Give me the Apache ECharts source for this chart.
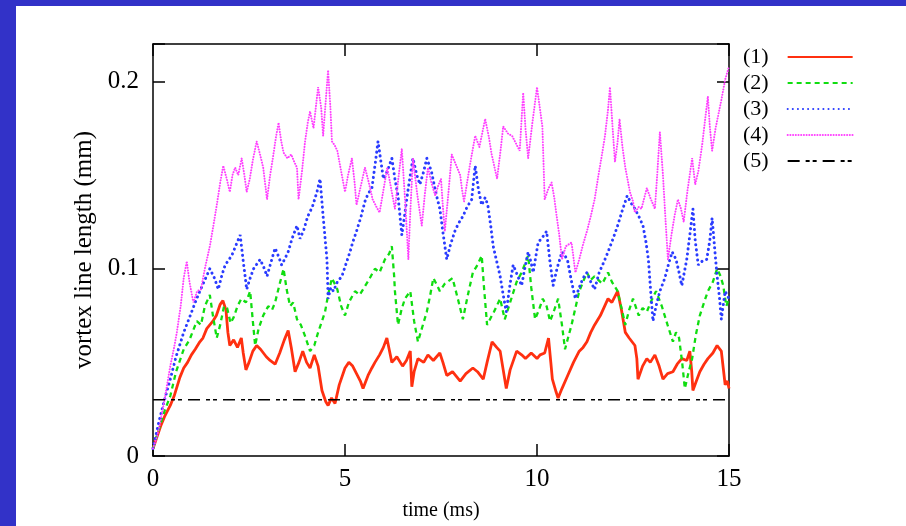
<!DOCTYPE html>
<html>
<head>
<meta charset="utf-8">
<script src="https://cdn.jsdelivr.net/npm/echarts@6/dist/echarts.min.js"></script>
<style>
html,body{margin:0;padding:0;width:906px;height:526px;background:#3232c8;overflow:hidden;}
#chart{position:absolute;left:16px;top:6px;width:890px;height:520px;background:#ffffff;}
</style>
</head>
<body>
<div id="chart"></div>
<script>
// ---- data ----
const seriesNames = ['(1)', '(2)', '(3)', '(4)', '(5)'];
const xTicks = [0, 5, 10, 15];
const yTicks = [0, 0.1, 0.2];

const time1 = [0,0.1,0.2,0.3,0.45,0.55,0.7,0.8,0.9,1.0,1.1,1.22,1.3,1.4,1.56,1.65,1.75,1.82,1.9,1.95,2.0,2.1,2.2,2.3,2.35,2.42,2.5,2.6,2.7,2.8,2.95,3.05,3.18,3.3,3.42,3.52,3.6,3.7,3.8,3.9,4.0,4.09,4.2,4.3,4.4,4.5,4.56,4.65,4.74,4.85,5.0,5.1,5.2,5.3,5.4,5.47,5.6,5.7,5.78,5.9,6.0,6.09,6.15,6.22,6.35,6.5,6.6,6.7,6.74,6.8,6.9,7.05,7.16,7.3,7.47,7.55,7.65,7.8,8.0,8.15,8.33,8.45,8.6,8.7,8.83,8.95,9.04,9.12,9.2,9.3,9.47,9.6,9.7,9.85,10.0,10.08,10.2,10.3,10.36,10.4,10.5,10.55,10.65,10.8,10.95,11.1,11.2,11.3,11.4,11.5,11.65,11.85,11.95,12.1,12.2,12.3,12.4,12.55,12.6,12.63,12.75,12.86,12.95,13.07,13.18,13.28,13.4,13.54,13.65,13.77,13.9,13.98,14.03,14.06,14.15,14.24,14.35,14.45,14.58,14.69,14.8,14.85,14.9,14.96,15.0];
const len1 = [0.004,0.010,0.016,0.021,0.027,0.032,0.042,0.047,0.050,0.054,0.057,0.061,0.063,0.068,0.072,0.075,0.081,0.083,0.078,0.066,0.059,0.062,0.058,0.063,0.055,0.046,0.050,0.056,0.059,0.057,0.053,0.051,0.049,0.055,0.062,0.067,0.058,0.045,0.050,0.056,0.050,0.047,0.054,0.048,0.035,0.029,0.027,0.031,0.028,0.038,0.047,0.050,0.048,0.044,0.040,0.036,0.043,0.047,0.050,0.054,0.058,0.063,0.057,0.050,0.053,0.048,0.051,0.056,0.037,0.045,0.052,0.050,0.054,0.051,0.055,0.050,0.043,0.045,0.040,0.044,0.047,0.045,0.041,0.050,0.061,0.058,0.056,0.046,0.036,0.046,0.056,0.054,0.052,0.055,0.052,0.054,0.055,0.063,0.050,0.041,0.034,0.031,0.036,0.043,0.050,0.056,0.058,0.061,0.066,0.070,0.075,0.084,0.082,0.088,0.078,0.066,0.063,0.059,0.052,0.041,0.048,0.052,0.050,0.054,0.048,0.041,0.044,0.045,0.049,0.052,0.051,0.056,0.045,0.035,0.040,0.045,0.049,0.052,0.055,0.059,0.056,0.047,0.038,0.040,0.036];

const time2 = [0,0.15,0.3,0.45,0.6,0.8,0.95,1.14,1.25,1.35,1.48,1.56,1.66,1.75,1.85,1.93,2.02,2.1,2.2,2.3,2.42,2.53,2.6,2.66,2.75,2.87,3.0,3.1,3.18,3.3,3.4,3.48,3.57,3.65,3.75,3.85,3.96,4.09,4.2,4.3,4.4,4.48,4.57,4.66,4.8,4.9,5.0,5.1,5.26,5.38,5.5,5.62,5.78,5.9,6.04,6.15,6.22,6.28,6.3,6.38,6.47,6.56,6.7,6.8,6.9,7.0,7.13,7.22,7.3,7.4,7.47,7.6,7.8,7.95,8.07,8.2,8.33,8.45,8.56,8.62,8.7,8.8,8.88,9.04,9.16,9.3,9.47,9.6,9.77,9.85,9.95,10.05,10.15,10.25,10.34,10.45,10.55,10.65,10.73,10.82,10.9,11.0,11.1,11.2,11.3,11.4,11.5,11.7,11.85,11.95,12.1,12.2,12.3,12.4,12.5,12.65,12.75,12.86,12.98,13.1,13.25,13.4,13.54,13.62,13.7,13.78,13.85,13.95,14.04,14.14,14.24,14.35,14.45,14.58,14.69,14.78,14.85,14.93,15.0];
const len2 = [0.004,0.014,0.024,0.032,0.045,0.057,0.062,0.072,0.070,0.080,0.086,0.075,0.063,0.070,0.080,0.079,0.071,0.074,0.080,0.084,0.082,0.088,0.072,0.059,0.068,0.075,0.080,0.078,0.082,0.092,0.100,0.089,0.080,0.082,0.073,0.070,0.064,0.056,0.059,0.066,0.072,0.077,0.087,0.095,0.089,0.080,0.075,0.082,0.088,0.086,0.090,0.094,0.100,0.098,0.105,0.108,0.112,0.096,0.088,0.070,0.078,0.084,0.088,0.072,0.061,0.068,0.077,0.086,0.095,0.091,0.088,0.092,0.095,0.083,0.073,0.086,0.098,0.102,0.107,0.090,0.070,0.074,0.077,0.084,0.073,0.082,0.093,0.098,0.107,0.090,0.073,0.078,0.084,0.080,0.072,0.078,0.084,0.070,0.057,0.064,0.070,0.079,0.088,0.093,0.098,0.094,0.096,0.092,0.098,0.093,0.088,0.079,0.070,0.078,0.084,0.075,0.079,0.077,0.083,0.088,0.080,0.070,0.061,0.066,0.063,0.050,0.036,0.045,0.052,0.065,0.075,0.082,0.088,0.093,0.100,0.096,0.091,0.080,0.084];

const time3 = [0,0.15,0.3,0.45,0.6,0.8,0.97,1.1,1.22,1.35,1.48,1.6,1.7,1.8,1.88,2.05,2.15,2.27,2.35,2.44,2.53,2.62,2.79,2.88,2.97,3.08,3.18,3.28,3.35,3.45,3.52,3.62,3.75,3.83,3.93,4.03,4.15,4.27,4.35,4.43,4.53,4.56,4.63,4.7,4.8,4.92,5.0,5.13,5.2,5.3,5.42,5.52,5.6,5.7,5.78,5.86,5.93,6.0,6.1,6.22,6.3,6.38,6.48,6.55,6.62,6.7,6.77,6.87,6.95,7.05,7.13,7.25,7.35,7.42,7.47,7.56,7.65,7.75,7.86,7.95,8.07,8.18,8.3,8.39,8.47,8.56,8.65,8.72,8.8,8.86,8.95,9.04,9.12,9.2,9.3,9.38,9.5,9.6,9.68,9.77,9.85,9.9,10.03,10.15,10.25,10.33,10.42,10.52,10.65,10.73,10.8,10.9,11.0,11.1,11.2,11.3,11.4,11.5,11.62,11.75,11.85,11.98,12.1,12.22,12.35,12.45,12.55,12.65,12.76,12.84,12.9,12.96,13.02,13.1,13.2,13.33,13.42,13.52,13.62,13.7,13.77,13.9,13.98,14.06,14.12,14.2,14.3,14.42,14.5,14.56,14.63,14.69,14.75,14.8,14.9,15.0];
const len3 = [0.004,0.018,0.030,0.041,0.053,0.066,0.075,0.082,0.088,0.094,0.100,0.095,0.089,0.097,0.102,0.107,0.112,0.118,0.104,0.089,0.095,0.100,0.105,0.101,0.096,0.104,0.111,0.106,0.102,0.106,0.109,0.116,0.123,0.116,0.121,0.128,0.133,0.141,0.148,0.128,0.105,0.084,0.090,0.088,0.093,0.096,0.101,0.109,0.114,0.120,0.128,0.136,0.140,0.143,0.155,0.168,0.158,0.148,0.152,0.159,0.148,0.139,0.118,0.128,0.139,0.150,0.159,0.150,0.145,0.152,0.159,0.152,0.142,0.136,0.132,0.118,0.105,0.113,0.120,0.124,0.128,0.133,0.137,0.155,0.143,0.134,0.138,0.134,0.122,0.112,0.104,0.096,0.086,0.077,0.092,0.102,0.096,0.091,0.100,0.109,0.103,0.098,0.114,0.117,0.120,0.105,0.091,0.100,0.109,0.107,0.104,0.093,0.084,0.090,0.095,0.098,0.093,0.089,0.098,0.104,0.109,0.116,0.123,0.131,0.139,0.135,0.132,0.128,0.123,0.114,0.105,0.088,0.072,0.080,0.088,0.095,0.102,0.109,0.105,0.098,0.091,0.105,0.118,0.132,0.115,0.102,0.104,0.105,0.115,0.127,0.110,0.096,0.085,0.073,0.088,0.084];

const time4 = [0,0.1,0.18,0.3,0.45,0.55,0.62,0.72,0.8,0.88,0.95,1.05,1.15,1.25,1.35,1.48,1.58,1.66,1.75,1.83,1.92,2.0,2.07,2.14,2.22,2.31,2.38,2.44,2.52,2.6,2.7,2.8,2.87,2.97,3.05,3.12,3.2,3.27,3.34,3.4,3.5,3.6,3.68,3.75,3.79,3.88,3.96,4.03,4.09,4.18,4.25,4.3,4.38,4.43,4.5,4.56,4.62,4.66,4.73,4.8,4.9,5.0,5.08,5.18,5.25,5.3,5.42,5.52,5.62,5.72,5.82,5.9,6.0,6.1,6.2,6.3,6.4,6.48,6.57,6.65,6.7,6.77,6.88,7.0,7.08,7.16,7.25,7.35,7.42,7.5,7.55,7.6,7.7,7.78,7.9,8.0,8.05,8.1,8.25,8.39,8.5,8.65,8.75,8.82,8.96,9.05,9.12,9.25,9.35,9.45,9.55,9.64,9.7,9.77,9.88,10.0,10.08,10.14,10.2,10.3,10.38,10.45,10.5,10.58,10.65,10.75,10.9,11.0,11.1,11.2,11.3,11.4,11.5,11.6,11.7,11.77,11.85,11.9,11.97,12.03,12.1,12.15,12.22,12.3,12.42,12.5,12.55,12.65,12.72,12.86,12.95,13.07,13.13,13.2,13.28,13.35,13.41,13.5,13.58,13.67,13.75,13.82,13.92,14.04,14.12,14.2,14.3,14.38,14.45,14.5,14.56,14.65,14.72,14.8,14.9,15.0];
const len4 = [0.004,0.010,0.017,0.030,0.048,0.058,0.066,0.080,0.095,0.104,0.093,0.082,0.088,0.089,0.100,0.112,0.124,0.134,0.146,0.155,0.148,0.141,0.150,0.154,0.150,0.159,0.150,0.141,0.148,0.158,0.168,0.160,0.154,0.137,0.150,0.159,0.170,0.178,0.168,0.162,0.159,0.161,0.157,0.154,0.137,0.152,0.168,0.178,0.184,0.175,0.188,0.197,0.186,0.171,0.190,0.206,0.186,0.168,0.166,0.163,0.152,0.141,0.150,0.159,0.146,0.134,0.145,0.154,0.146,0.137,0.133,0.130,0.142,0.154,0.143,0.132,0.150,0.164,0.135,0.105,0.130,0.159,0.140,0.123,0.140,0.154,0.146,0.139,0.144,0.148,0.133,0.120,0.142,0.161,0.155,0.150,0.142,0.136,0.155,0.171,0.165,0.180,0.170,0.161,0.148,0.163,0.176,0.172,0.171,0.167,0.163,0.194,0.175,0.159,0.178,0.197,0.185,0.176,0.137,0.143,0.146,0.138,0.130,0.118,0.105,0.112,0.114,0.098,0.105,0.113,0.120,0.128,0.137,0.150,0.162,0.171,0.185,0.197,0.175,0.157,0.168,0.180,0.166,0.154,0.141,0.136,0.130,0.133,0.132,0.143,0.138,0.132,0.150,0.173,0.150,0.125,0.105,0.118,0.128,0.137,0.132,0.125,0.142,0.159,0.145,0.152,0.166,0.180,0.192,0.176,0.163,0.175,0.182,0.190,0.201,0.208];

const time5 = [0, 15];
const len5 = [0.03, 0.03];

const colors = ['#ff3010', '#10dd10', '#2a3cff', '#ff40ff', '#000000'];

// ---- chart ----
const FONT = '"Liberation Serif", "DejaVu Serif", serif';
function pairs(t, v) { return t.map((x, i) => [x, v[i]]); }

const chart = echarts.init(document.getElementById('chart'), null, {renderer: 'canvas'});

const axisLineStyle = {color: '#000', width: 1.5};
const baseX = {
  type: 'value', min: 0, max: 15, interval: 5,
  splitLine: {show: false},
  axisLine: {show: true, onZero: false, lineStyle: axisLineStyle},
  axisTick: {show: true, inside: true, length: 12, lineStyle: {color: '#000', width: 1.5}},
};
const baseY = {
  type: 'value', min: 0, max: 0.22, interval: 0.1,
  splitLine: {show: false},
  axisLine: {show: true, onZero: false, lineStyle: axisLineStyle},
  axisTick: {show: true, inside: true, length: 12, lineStyle: {color: '#000', width: 1.5}},
};

const dashTypes = ['solid', [5, 4], [0.1, 5], [0.1, 2.6], [12, 6, 4, 3, 4, 6]];
const caps = ['butt', 'butt', 'round', 'round', 'butt'];
const widths = [2.8, 2.3, 3, 2, 1.5];
const allT = [time1, time2, time3, time4, time5];
const allV = [len1, len2, len3, len4, len5];

const series = seriesNames.map((name, i) => ({
  name: name,
  type: 'line',
  xAxisIndex: 0, yAxisIndex: 0,
  data: pairs(allT[i], allV[i]),
  symbol: 'none',
  lineStyle: {color: colors[i], width: widths[i], type: dashTypes[i], cap: caps[i]},
  itemStyle: {color: colors[i]},
  animation: false,
  z: 2 + i
}));

chart.setOption({
  animation: false,
  backgroundColor: '#ffffff',
  grid: {left: 137, top: 38, width: 576, height: 414, containLabel: false},
  legend: {
    data: seriesNames,
    orient: 'vertical',
    left: 727, top: 40,
    align: 'right',
    padding: 0,
    itemWidth: 65, itemHeight: 14, itemGap: 4,
    itemStyle: {opacity: 0, borderWidth: 0},
    textStyle: {fontFamily: FONT, fontSize: 22, color: '#000', padding: [0, 14, 0, 0]},
    selectedMode: false
  },
  xAxis: [
    Object.assign({}, baseX, {
      position: 'bottom',
      axisLabel: {show: true, color: '#000', fontFamily: FONT, fontSize: 25, margin: 11,
        customValues: xTicks},
      name: 'time (ms)', nameLocation: 'middle', nameGap: 45,
      nameTextStyle: {fontFamily: FONT, fontSize: 20, color: '#000'}
    }),
    Object.assign({}, baseX, {position: 'top', axisLabel: {show: false}})
  ],
  yAxis: [
    Object.assign({}, baseY, {
      position: 'left',
      axisLabel: {show: true, color: '#000', fontFamily: FONT, fontSize: 25, margin: 14,
        customValues: yTicks},
      name: 'vortex line length (mm)', nameLocation: 'middle', nameGap: 54, nameRotate: 90,
      nameTextStyle: {fontFamily: FONT, fontSize: 25, color: '#000'}
    }),
    Object.assign({}, baseY, {position: 'right', axisLabel: {show: false}})
  ],
  series: series
});
</script>
</body>
</html>
